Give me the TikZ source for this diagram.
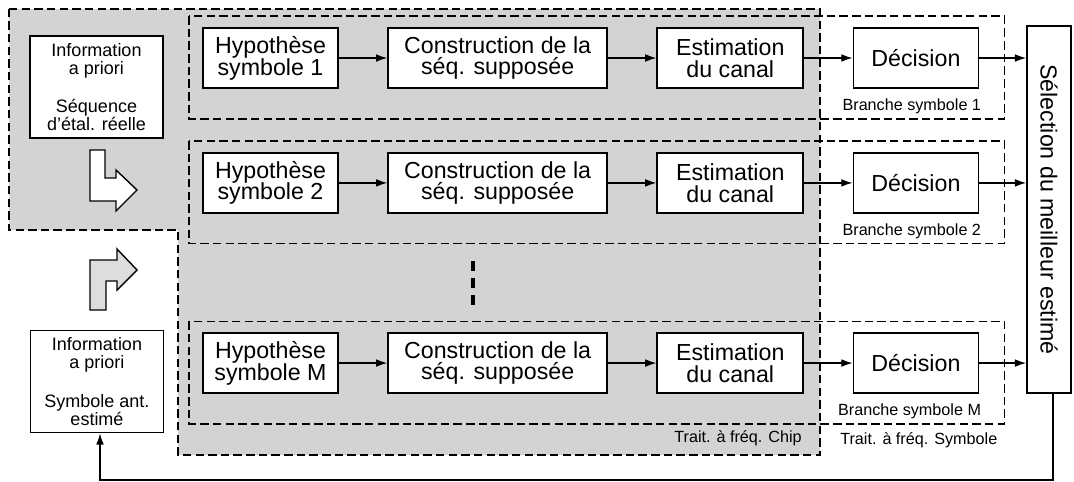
\documentclass[tikz,border=0pt]{standalone}
\usepackage{fontspec}
\setmainfont{Liberation Sans}
\usetikzlibrary{arrows.meta, positioning, calc, backgrounds}
\definecolor{chipgray}{HTML}{D3D3D3}
\definecolor{arrowgray}{HTML}{DDDDDD}
\tikzset{
  block/.style={
    rectangle, draw=black, line width=1.2pt, fill=white,
    minimum height=1.5cm, inner sep=0pt, align=center,
    font=\fontsize{16.5}{15.5}\selectfont,
  },
  hypbox/.style={block, minimum width=3.375cm},
  consbox/.style={block, minimum width=5.475cm},
  estbox/.style={block, minimum width=3.65cm},
  decbox/.style={block, minimum width=3.125cm},
  selbox/.style={block, minimum width=1.1cm, minimum height=9.175cm},
  infobox/.style={
    rectangle, draw=black, line width=1.2pt, fill=white,
    minimum width=3.325cm, minimum height=2.55cm, inner sep=0pt,
    align=center, font=\fontsize{12.8}{13}\selectfont,
  },
  brlabel/.style={inner sep=0pt, font=\fontsize{11.5}{12}\selectfont},
  branchbox/.style={draw=black, line width=1pt, dash pattern=on 6pt off 3pt},
  chipregion/.style={fill=chipgray, draw=black, line width=1.3pt, dash pattern=on 6pt off 3pt},
  blockarrow/.style={draw=black, line width=1pt, line join=miter},
  vdots/.style={draw=black, line width=2.3pt, dash pattern=on 7pt off 5pt},
  arrow/.style={-{Latex[length=8pt,width=5.5pt]}, line width=0.9pt, color=black},
}
\begin{document}
\begin{tikzpicture}[x=0.025cm, y=-0.025cm, node distance=1.21cm]
  \useasboundingbox (0,0) rectangle (1074,481);

  % a priori information
  \node[infobox] (info1) at (96.5,87) {Information\\a priori\\[0.5cm]S\'equence\\d'\'etal. r\'eelle};
  \node[infobox] (info2) at (97,381.5) {Information\\a priori\\[0.5cm]Symbole ant.\\estim\'e};

  % branch 1
  \node[hypbox] (hyp1) at (270.5,58) {Hypoth\`ese\\symbole 1};
  \node[consbox, right=of hyp1] (cons1) {Construction de la\\s\'eq. suppos\'ee};
  \node[estbox, right=of cons1] (est1) {Estimation\\du canal};
  \node[decbox, right=of est1] (dec1) {D\'ecision};

  % branch 2
  \node[hypbox, below=1.58cm of hyp1] (hyp2) {Hypoth\`ese\\symbole 2};
  \node[consbox, right=of hyp2] (cons2) {Construction de la\\s\'eq. suppos\'ee};
  \node[estbox, right=of cons2] (est2) {Estimation\\du canal};
  \node[decbox, right=of est2] (dec2) {D\'ecision};

  % branch M
  \node[hypbox, below=2.96cm of hyp2] (hypM) {Hypoth\`ese\\symbole M};
  \node[consbox, right=of hypM] (consM) {Construction de la\\s\'eq. suppos\'ee};
  \node[estbox, right=of consM] (estM) {Estimation\\du canal};
  \node[decbox, right=of estM] (decM) {D\'ecision};

  \node[selbox] (sel) at (1049,209.5) {\rotatebox{-90}{S\'election du meilleur estim\'e}};

  % labels
  \node[brlabel, anchor=base east] (lab1) at ($(dec1.south east)+(2,22)$) {Branche symbole 1};
  \node[brlabel, anchor=base east] (lab2) at ($(dec2.south east)+(2,22)$) {Branche symbole 2};
  \node[brlabel, anchor=base east] (labM) at ($(decM.south east)+(2,22)$) {Branche symbole M};
  \node[brlabel, anchor=base east] (chiplab) at (802,442) {Trait. \`a fr\'eq. Chip};
  \node[brlabel, anchor=base west] (symlab) at (840,444) {Trait. \`a fr\'eq. Symbole};

  \begin{scope}[on background layer]
    \draw[chipregion] (9,9) -- (820,9) -- (820,455) -- (178,455) -- (178,230) -- (9,230) -- cycle;
    \draw[branchbox] ($(hyp1.north west)+(-13,-11)$) rectangle ($(dec1.south east)+(25,30)$);
    \draw[branchbox] ($(hyp2.north west)+(-13,-11)$) rectangle ($(dec2.south east)+(25,30)$);
    \draw[branchbox] ($(hypM.north west)+(-13,-11)$) rectangle ($(decM.south east)+(25,30)$);
  \end{scope}

  % block arrows
  \draw[blockarrow, fill=white] (90,150) -- (105,150) -- (105,178) -- (116,178) -- (116,170)
    -- (137,190) -- (116,211) -- (116,201) -- (90,201) -- cycle;
  \draw[blockarrow, fill=arrowgray] (90,310) -- (106,310) -- (106,281) -- (117,281) -- (117,290)
    -- (137,270) -- (117,249) -- (117,260) -- (90,260) -- cycle;

  \draw[vdots] (473,261) -- (473,306);

  % connectors
  \draw[arrow] (hyp1) -- (cons1);
  \draw[arrow] (cons1) -- (est1);
  \draw[arrow] (est1) -- (dec1);
  \draw[arrow] (dec1.east) -- (dec1.east -| sel.west);
  \draw[arrow] (hyp2) -- (cons2);
  \draw[arrow] (cons2) -- (est2);
  \draw[arrow] (est2) -- (dec2);
  \draw[arrow] (dec2.east) -- (dec2.east -| sel.west);
  \draw[arrow] (hypM) -- (consM);
  \draw[arrow] (consM) -- (estM);
  \draw[arrow] (estM) -- (decM);
  \draw[arrow] (decM.east) -- (decM.east -| sel.west);

  \coordinate (fb) at (100,480);
  \draw[arrow] ($(sel.south)+(4,0)$) |- (fb) -- (fb |- info2.south);
\end{tikzpicture}
\end{document}
